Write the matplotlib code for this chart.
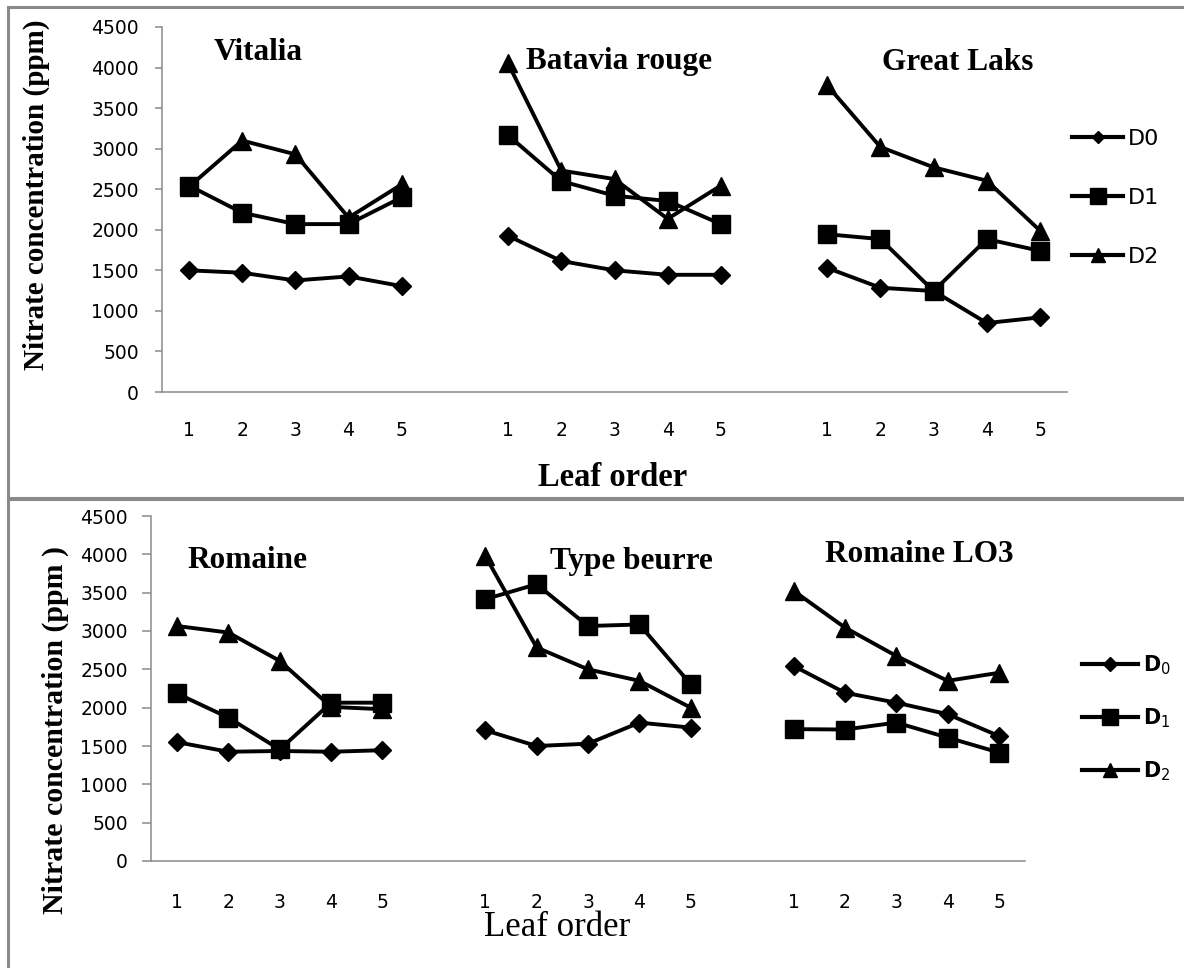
import numpy as np
import matplotlib.pyplot as plt
from matplotlib.patches import Rectangle
from matplotlib.lines import Line2D

# leaf order and varieties
leaf = [1, 2, 3, 4, 5]
top_varieties = ["Vitalia", "Batavia rouge", "Great Laks"]
bottom_varieties = ["Romaine", "Type beurre", "Romaine LO3"]

# nitrate (ppm)
vitalia_d0 = [1500, 1470, 1375, 1425, 1305]
vitalia_d1 = [2545, 2210, 2070, 2070, 2400]
vitalia_d2 = [2530, 3100, 2930, 2150, 2560]
batavia_d0 = [1925, 1615, 1500, 1445, 1445]
batavia_d1 = [3165, 2600, 2420, 2355, 2070]
batavia_d2 = [4050, 2730, 2625, 2135, 2545]
great_d0 = [1530, 1285, 1245, 850, 920]
great_d1 = [1945, 1885, 1245, 1885, 1740]
great_d2 = [3780, 3020, 2770, 2605, 1990]

romaine_d0 = [1550, 1425, 1435, 1425, 1445]
romaine_d1 = [2185, 1870, 1455, 2065, 2065]
romaine_d2 = [3065, 2980, 2610, 2010, 1980]
beurre_d0 = [1705, 1500, 1530, 1805, 1740]
beurre_d1 = [3415, 3610, 3065, 3085, 2305]
beurre_d2 = [3980, 2785, 2500, 2350, 2000]
lo3_d0 = [2545, 2195, 2065, 1915, 1630]
lo3_d1 = [1720, 1715, 1805, 1610, 1415]
lo3_d2 = [3525, 3045, 2675, 2350, 2455]

W, H = 1184, 968
def fx(x):
    return x / W
def fy(y):
    return 1 - y / H

gray = "#8a8a8a"
serif = "Liberation Serif"
lw = 2.8

fig = plt.figure(figsize=(W / 100, H / 100), dpi=100)

# panel frames
fig.patches.append(Rectangle((fx(8), fy(498)), fx(1190 - 8), (498 - 7) / H,
                             transform=fig.transFigure, fill=False, ec=gray, lw=2.2))
fig.patches.append(Rectangle((fx(8), -0.02), fx(1190 - 8), fy(499) + 0.02,
                             transform=fig.transFigure, fill=False, ec=gray, lw=2.2))


def panel(rect, groups, ypad, ytick_len, xpad):
    ax = fig.add_axes(rect)
    for i, (d0, d1, d2) in enumerate(groups):
        x = np.array(leaf) + 6 * i
        ax.plot(x, d2, color="k", lw=lw, marker="^", ms=12.5, zorder=3)
        ax.plot(x, d0, color="k", lw=lw, marker="D", ms=9, zorder=4)
        ax.plot(x, d1, color="k", lw=lw, marker="s", ms=13, zorder=5)
    ax.set_xlim(0.5, 17.5)
    ax.set_ylim(0, 4500)
    ax.set_yticks(np.arange(0, 4501, 500))
    ax.set_xticks([l + 6 * i for i in range(3) for l in leaf], labels=leaf * 3)
    for s in ["top", "right"]:
        ax.spines[s].set_visible(False)
    for s in ["left", "bottom"]:
        ax.spines[s].set_color(gray)
        ax.spines[s].set_linewidth(1.1)
    ax.tick_params(axis="y", direction="out", length=ytick_len, width=1.1, color=gray,
                   pad=ypad, labelsize=13.5)
    ax.tick_params(axis="x", length=0, pad=xpad, labelsize=13.5)
    ax.patch.set_alpha(0)
    return ax


ax1 = panel([fx(162.4), fy(392), (1066.6 - 162.4) / W, (392 - 27) / H],
            [(vitalia_d0, vitalia_d1, vitalia_d2),
             (batavia_d0, batavia_d1, batavia_d2),
             (great_d0, great_d1, great_d2)], 12, 5, 21)
ax2 = panel([fx(151.3), fy(861), (1024.7 - 151.3) / W, (861 - 516) / H],
            [(romaine_d0, romaine_d1, romaine_d2),
             (beurre_d0, beurre_d1, beurre_d2),
             (lo3_d0, lo3_d1, lo3_d2)], 10.5, 6.5, 23)

# variety titles
for name, (x, y) in zip(top_varieties, [(258, 53), (619, 62), (958, 62)]):
    fig.text(fx(x), fy(y), name, family=serif, weight="bold", fontsize=22.5,
             ha="center", va="center")
for name, (x, y) in zip(bottom_varieties, [(247, 561), (631, 562), (919, 555)]):
    fig.text(fx(x), fy(y), name, family=serif, weight="bold", fontsize=22.5,
             ha="center", va="center")

# axis labels
fig.text(fx(36), fy(195), "Nitrate concentration (ppm)", family=serif, weight="bold",
         fontsize=21, rotation=90, ha="center", va="center")
fig.text(fx(55), fy(730), "Nitrate concentration (ppm )", family=serif, weight="bold",
         fontsize=21.5, rotation=90, ha="center", va="center")
fig.text(fx(613), fy(477), "Leaf order", family=serif, weight="bold", fontsize=23.5,
         ha="center", va="center")
fig.text(fx(557), fy(928), "Leaf order", family=serif, fontsize=25,
         ha="center", va="center")

# legends
def handles(sizes):
    return [Line2D([], [], color="k", lw=3, marker="D", ms=sizes[0]),
            Line2D([], [], color="k", lw=3, marker="s", ms=sizes[1]),
            Line2D([], [], color="k", lw=3, marker="^", ms=sizes[2])]

ax1.legend(handles([6, 11, 10]), ["D0", "D1", "D2"], loc="center left",
           bbox_to_anchor=(fx(1072), fy(198)), bbox_transform=fig.transFigure,
           frameon=False, borderpad=0, borderaxespad=0, handlelength=2.3,
           handletextpad=0.2, labelspacing=1.75,
           prop={"family": ["Liberation Sans Narrow", "DejaVu Sans"], "size": 16})
ax2.legend(handles([7, 12, 10]), [r"$\mathbf{D}_{0}$", r"$\mathbf{D}_{1}$",
                                  r"$\mathbf{D}_{2}$"], loc="center left",
           bbox_to_anchor=(fx(1082), fy(718)), bbox_transform=fig.transFigure,
           frameon=False, borderpad=0, borderaxespad=0, handlelength=2.7,
           handletextpad=0.25, labelspacing=1.4, prop={"size": 15})

fig.savefig("out.png", dpi=100)
